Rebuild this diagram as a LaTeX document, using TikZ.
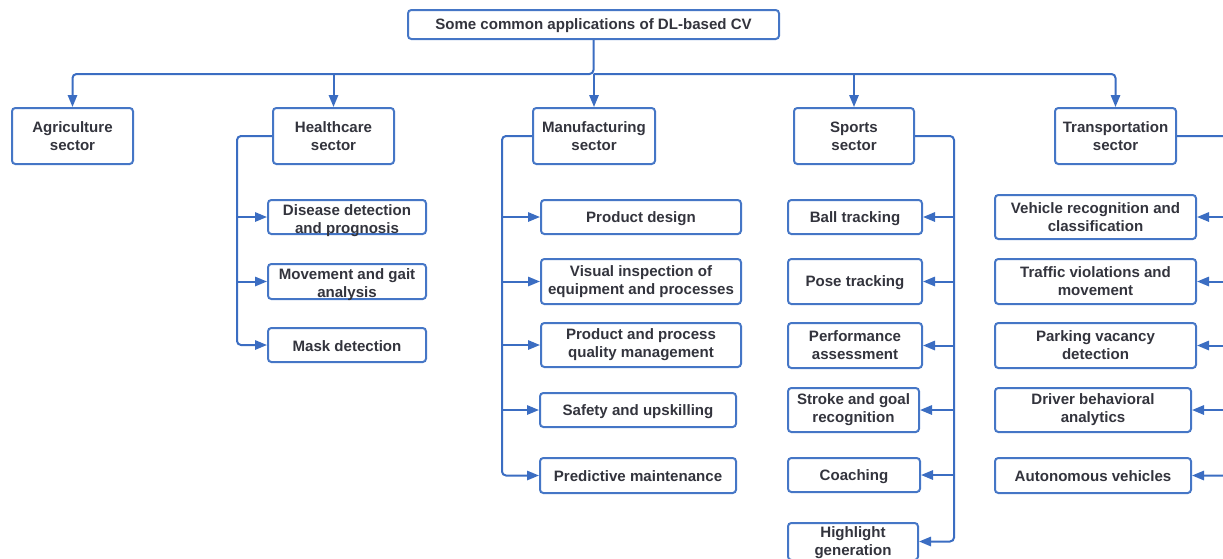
\documentclass[tikz,border=0pt]{standalone}
\usepackage{fontspec}
\setmainfont{Liberation Sans}
\usetikzlibrary{arrows.meta}
\definecolor{linkblue}{HTML}{3B6DC2}
\definecolor{boxblue}{HTML}{4576C6}
\definecolor{ink}{HTML}{33343D}
\tikzset{
  box/.style={draw=boxblue, line width=1.5pt, rounded corners=2.5pt, fill=white, inner sep=0pt},
  sz/.style 2 args={minimum width=#1*0.75pt, minimum height=#2*0.75pt},
  lbl/.style={text=ink, font=\bfseries\fontsize{11.3}{13.5}\selectfont, align=center, inner sep=0pt},
  link/.style={draw=linkblue, line width=1.5pt, rounded corners=3pt},
  arr/.style={link, -{Triangle[length=9pt,width=7pt]}},
}
\begin{document}
\begin{tikzpicture}[x=0.75pt,y=-0.75pt]
\useasboundingbox (0,0) rectangle (1223,558);
\clip (0,0) rectangle (1223,558);

% root and sectors
\node[box, sz={371}{29}] (root) at (593.5,24.5) {};
\node[lbl] at ([yshift=-1*0.75pt]root.center) {Some common applications of DL-based CV};

\node[box, sz={121}{56}] (agri) at (72.5,136) {};
\node[lbl] at (agri.center) {Agriculture\\sector};
\node[box, sz={121}{56}] (health) at (333.5,136) {};
\node[lbl] at (health.center) {Healthcare\\sector};
\node[box, sz={122}{56}] (manuf) at (594,136) {};
\node[lbl] at (manuf.center) {Manufacturing\\sector};
\node[box, sz={120}{56}] (sports) at (854,136) {};
\node[lbl] at (sports.center) {Sports\\sector};
\node[box, sz={121}{56}] (transp) at (1115.5,136) {};
\node[lbl] at (transp.center) {Transportation\\sector};

% bus between root and sectors
\coordinate (bus) at (0,74);
\draw[arr] (root.south) -- (root.south |- bus) -| (agri.north);
\draw[arr] (root.south |- bus) -| (transp.north);
\draw[arr] (health.north |- bus) -- (health.north);
\draw[arr] (manuf.north |- bus) -- (manuf.north);
\draw[arr] (sports.north |- bus) -- (sports.north);

% healthcare
\node[box, sz={158}{34}] (hc1) at (347,217) {};
\node[lbl] at ([yshift=-3.5*0.75pt]hc1.center) {Disease detection\\and prognosis};
\node[box, sz={158}{35}] (hc2) at (347,281.5) {};
\node[lbl] at ([yshift=-3*0.75pt]hc2.center) {Movement and gait\\analysis};
\node[box, sz={158}{34}] (hc3) at (347,345) {};
\node[lbl] at ([yshift=-1*0.75pt]hc3.center) {Mask detection};
\coordinate (hT) at (237,0);
\draw[arr] (health.west) -| (hT |- hc3.west) -- (hc3.west);
\foreach \c in {hc1,hc2} \draw[arr] (hT |- \c.west) -- (\c.west);

% manufacturing
\node[box, sz={200}{34}] (mc1) at (641,217) {};
\node[lbl] at ([yshift=-1.5*0.75pt]mc1.center) {Product design};
\node[box, sz={200}{45}] (mc2) at (641,281.5) {};
\node[lbl] at (mc2.center) {Visual inspection of\\equipment and processes};
\node[box, sz={200}{44}] (mc3) at (641,345) {};
\node[lbl] at (mc3.center) {Product and process\\quality management};
\node[box, sz={196}{34}] (mc4) at (638,410) {};
\node[lbl] at ([yshift=-1.5*0.75pt]mc4.center) {Safety and upskilling};
\node[box, sz={196}{35}] (mc5) at (638,475.5) {};
\node[lbl] at ([yshift=-1*0.75pt]mc5.center) {Predictive maintenance};
\coordinate (mT) at (502,0);
\draw[arr] (manuf.west) -| (mT |- mc5.west) -- (mc5.west);
\foreach \c in {mc1,mc2,mc3,mc4} \draw[arr] (mT |- \c.west) -- (\c.west);

% sports
\node[box, sz={134}{34}] (sc1) at (855,217) {};
\node[lbl] at ([yshift=-1.5*0.75pt]sc1.center) {Ball tracking};
\node[box, sz={134}{45}] (sc2) at (855,281.5) {};
\node[lbl] at ([yshift=-1.5*0.75pt]sc2.center) {Pose tracking};
\node[box, sz={134}{45}] (sc3) at (855,345.5) {};
\node[lbl] at (sc3.center) {Performance\\assessment};
\node[box, sz={131}{44}] (sc4) at (853.5,410) {};
\node[lbl] at (sc4.center) {Stroke and goal\\recognition};
\node[box, sz={132}{34}] (sc5) at (854,475) {};
\node[lbl] at ([yshift=-1.5*0.75pt]sc5.center) {Coaching};
\node[box, sz={130}{37}] (sc6) at (853,541.5) {};
\node[lbl] at ([yshift=-1*0.75pt]sc6.center) {Highlight\\generation};
\coordinate (sT) at (954,0);
\draw[arr] (sports.east) -| (sT |- sc6.east) -- (sc6.east);
\foreach \c in {sc1,sc2,sc3,sc4,sc5} \draw[arr] (sT |- \c.east) -- (\c.east);

% transportation
\node[box, sz={201}{44}] (tc1) at (1095.5,217) {};
\node[lbl] at (tc1.center) {Vehicle recognition and\\classification};
\node[box, sz={201}{45}] (tc2) at (1095.5,281.5) {};
\node[lbl] at (tc2.center) {Traffic violations and\\movement};
\node[box, sz={201}{45}] (tc3) at (1095.5,345.5) {};
\node[lbl] at (tc3.center) {Parking vacancy\\detection};
\node[box, sz={196}{44}] (tc4) at (1093,410) {};
\node[lbl] at (tc4.center) {Driver behavioral\\analytics};
\node[box, sz={196}{35}] (tc5) at (1093,475.5) {};
\node[lbl] at ([yshift=-1*0.75pt]tc5.center) {Autonomous vehicles};
\coordinate (tT) at (1232,0);
\draw[arr] (transp.east) -| (tT |- tc5.east) -- (tc5.east);
\foreach \c in {tc1,tc2,tc3,tc4} \draw[arr] (tT |- \c.east) -- (\c.east);
\end{tikzpicture}
\end{document}
